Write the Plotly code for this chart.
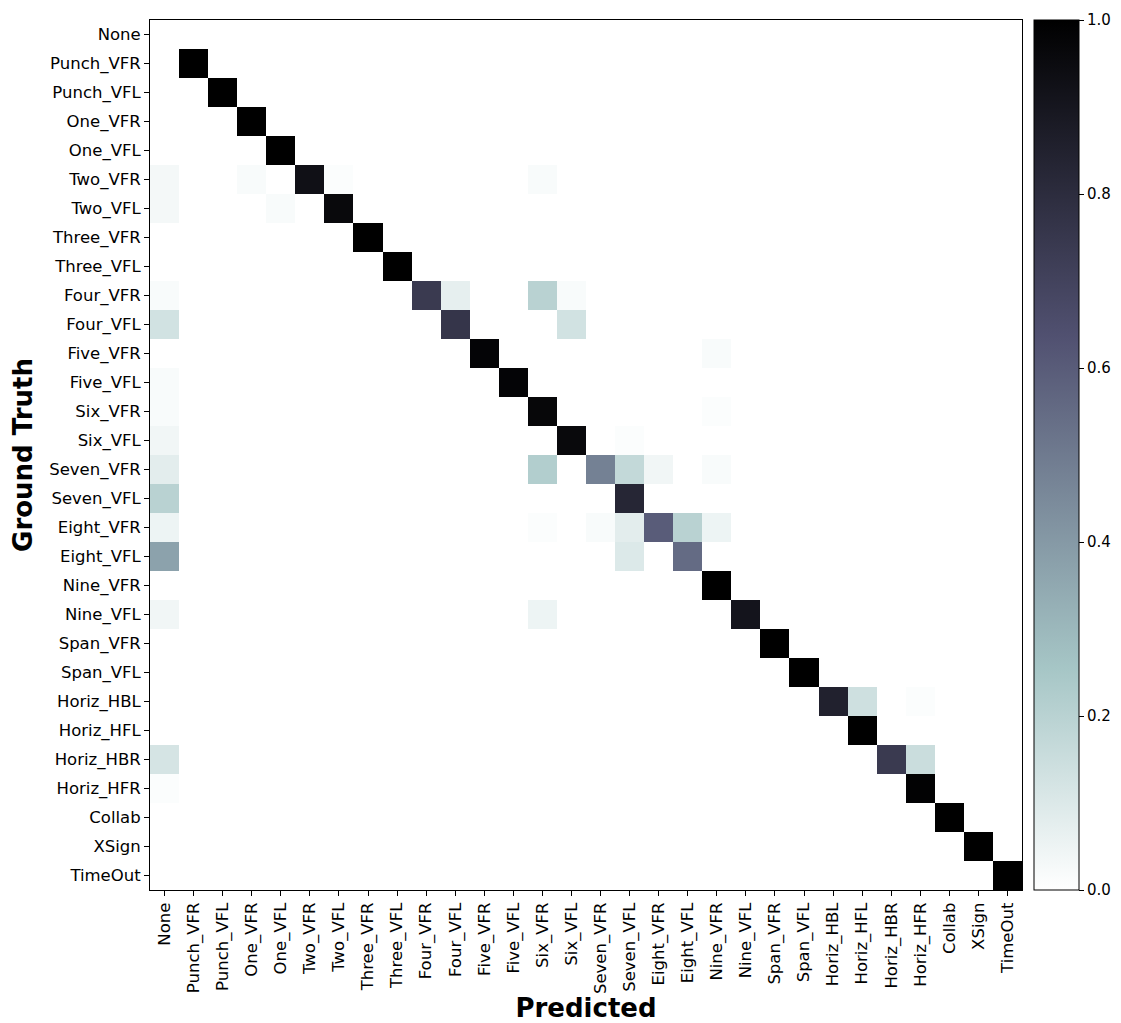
import plotly.graph_objects as go

labels = ["None", "Punch_VFR", "Punch_VFL", "One_VFR", "One_VFL", "Two_VFR", "Two_VFL",
          "Three_VFR", "Three_VFL", "Four_VFR", "Four_VFL", "Five_VFR", "Five_VFL",
          "Six_VFR", "Six_VFL", "Seven_VFR", "Seven_VFL", "Eight_VFR", "Eight_VFL",
          "Nine_VFR", "Nine_VFL", "Span_VFR", "Span_VFL", "Horiz_HBL", "Horiz_HFL",
          "Horiz_HBR", "Horiz_HFR", "Collab", "XSign", "TimeOut"]

# Diagonal of the normalized confusion matrix (ground truth == predicted)
diag_values = [0.0, 1.0, 1.0, 1.0, 1.0, 0.93, 0.96, 1.0, 1.0, 0.74, 0.76, 0.98, 0.98,
               0.97, 0.96, 0.48, 0.83, 0.6, 0.55, 1.0, 0.91, 1.0, 1.0, 0.85, 1.0,
               0.74, 0.99, 1.0, 1.0, 1.0]

# Off-diagonal non-zero cells: (ground truth, predicted, value)
off_rows = ["Two_VFR", "Two_VFR", "Two_VFR", "Two_VFR",
            "Two_VFL", "Two_VFL",
            "Four_VFR", "Four_VFR", "Four_VFR", "Four_VFR",
            "Four_VFL", "Four_VFL",
            "Five_VFR", "Five_VFL",
            "Six_VFR", "Six_VFR", "Six_VFL", "Six_VFL",
            "Seven_VFR", "Seven_VFR", "Seven_VFR", "Seven_VFR", "Seven_VFR",
            "Seven_VFL",
            "Eight_VFR", "Eight_VFR", "Eight_VFR", "Eight_VFR", "Eight_VFR", "Eight_VFR",
            "Eight_VFL", "Eight_VFL",
            "Nine_VFL", "Nine_VFL",
            "Horiz_HBL", "Horiz_HBL",
            "Horiz_HBR", "Horiz_HBR",
            "Horiz_HFR"]
off_cols = ["None", "One_VFR", "Two_VFL", "Six_VFR",
            "None", "One_VFL",
            "None", "Four_VFL", "Six_VFR", "Six_VFL",
            "None", "Six_VFL",
            "Nine_VFR", "None",
            "None", "Nine_VFR", "None", "Seven_VFL",
            "None", "Six_VFR", "Seven_VFL", "Eight_VFR", "Nine_VFR",
            "None",
            "None", "Six_VFR", "Seven_VFR", "Seven_VFL", "Eight_VFL", "Nine_VFR",
            "None", "Seven_VFL",
            "None", "Six_VFR",
            "Horiz_HFL", "Horiz_HFR",
            "None", "Horiz_HFR",
            "None"]
off_vals = [0.03, 0.02, 0.01, 0.02,
            0.03, 0.02,
            0.02, 0.07, 0.2, 0.02,
            0.13, 0.13,
            0.02, 0.02,
            0.02, 0.01, 0.04, 0.01,
            0.08, 0.22, 0.17, 0.04, 0.02,
            0.2,
            0.05, 0.01, 0.02, 0.08, 0.2, 0.05,
            0.37, 0.1,
            0.04, 0.05,
            0.14, 0.01,
            0.12, 0.15,
            0.01]

n = len(labels)
idx = {lab: i for i, lab in enumerate(labels)}
z = [[0.0] * n for _ in range(n)]
for i in range(n):
    z[i][i] = diag_values[i]
for r, c, v in zip(off_rows, off_cols, off_vals):
    z[idx[r]][idx[c]] = v

# matplotlib "bone_r" (piecewise linear)
bone_r = [
    [0.0, "rgb(255,255,255)"],
    [0.253968, "rgb(166,198,198)"],
    [0.634921, "rgb(81,81,113)"],
    [1.0, "rgb(0,0,0)"],
]

font_family = "DejaVu Sans"

fig = go.Figure(go.Heatmap(
    z=z, x=labels, y=labels, zmin=0, zmax=1, colorscale=bone_r,
    colorbar=dict(
        x=1.0138, xanchor="left", xref="paper",
        y=0.5, yanchor="middle", len=1.0, lenmode="fraction",
        thickness=45, thicknessmode="pixels",
        outlinecolor="black", outlinewidth=1,
        tickvals=[0, 0.2, 0.4, 0.6, 0.8, 1.0],
        ticktext=["0.0", "0.2", "0.4", "0.6", "0.8", "1.0"],
        ticks="outside", ticklen=5, tickcolor="black",
        tickfont=dict(family=font_family, size=15, color="black"),
        xpad=0, ypad=0,
    ),
))

# page body has an 8px margin, so the figure is sized to fill the window after it
fig.update_layout(
    width=1113, height=1015,
    margin=dict(l=142, r=99, t=12, b=133, autoexpand=False),
    paper_bgcolor="white", plot_bgcolor="white",
    font=dict(family=font_family, size=16.5, color="black"),
)
fig.update_xaxes(
    type="category", tickangle=-90, ticks="outside", ticklen=5, tickcolor="black",
    showline=True, linecolor="black", linewidth=1, mirror=True,
    showgrid=False, zeroline=False, automargin=False,
    tickfont=dict(family=font_family, size=16.5, color="black"),
    title=dict(text="<b>Predicted</b>", font=dict(family=font_family, size=26, color="black"),
               standoff=8),
)
fig.update_yaxes(
    type="category", autorange="reversed", ticks="outside", ticklen=5, tickcolor="black",
    showline=True, linecolor="black", linewidth=1, mirror=True,
    showgrid=False, zeroline=False, automargin=False,
    tickfont=dict(family=font_family, size=16.5, color="black"),
    title=dict(text="<b>Ground Truth</b>", font=dict(family=font_family, size=26, color="black"),
               standoff=10),
)

fig.write_html("out.html")
